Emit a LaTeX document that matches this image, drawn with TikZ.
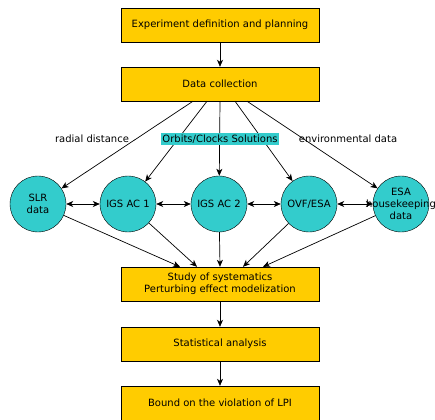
\documentclass[tikz,border=0pt]{standalone}
\usepackage{fontspec}
\setmainfont{DejaVu Sans}
\usetikzlibrary{arrows.meta}
\definecolor{boxyellow}{HTML}{FFCC00}
\definecolor{cyanfill}{HTML}{33CCCC}
\tikzset{
  stepbox/.style={draw, fill=boxyellow, minimum width=198pt, minimum height=34pt, inner sep=0pt, align=center},
  datanode/.style={draw, circle, fill=cyanfill, minimum size=56pt, inner sep=0pt, align=center},
  flow/.style={-{Stealth[length=7pt,width=6pt,inset=2pt]}, line width=0.7pt},
  both/.style={{Stealth[length=7pt,width=6pt,inset=2pt]}-{Stealth[length=7pt,width=6pt,inset=2pt]}, line width=0.7pt}
}
\begin{document}
\begin{tikzpicture}[x=1pt, y=-1pt, font=\fontsize{10}{12}\selectfont]
\useasboundingbox (0,0) rectangle (435,419);
% main chain
\node[stepbox] (plan) at (220,25) {Experiment definition and planning};
\node[stepbox] (coll) at (220,84) {Data collection};
\node[stepbox] (syst) at (220,284) {Study of systematics\\Perturbing effect modelization};
\node[stepbox] (stat) at (220,344) {Statistical analysis};
\node[stepbox] (lpi) at (220,403) {Bound on the violation of LPI};
% data sources
\node[datanode] (slr) at (38,204) {SLR\\data};
\node[datanode] (ac1) at (128,204) {IGS AC 1};
\node[datanode] (ac2) at (219,204) {IGS AC 2};
\node[datanode] (ovf) at (309,204) {OVF/ESA};
\node[datanode] (esa) at (401,204) {ESA\\\makebox[0pt]{housekeeping}\\data};
\draw[flow] (plan) -- (coll);
\draw[flow] ([xshift=-27pt]coll.south) -- (slr);
\draw[flow] ([xshift=-13pt]coll.south) -- (ac1);
\draw[flow] (coll.south) -- (ac2);
\draw[flow] ([xshift=15pt]coll.south) -- (ovf);
\draw[flow] ([xshift=27pt]coll.south) -- (esa);
% labels
\node (rad) at (92,139) {radial distance};
\node[fill=cyanfill, inner sep=1.5pt] (orb) at (220,139) {Orbits/Clocks Solutions};
\node (env) at (348,139) {environmental data};
\draw[both] (slr) -- (ac1);
\draw[both] (ac1) -- (ac2);
\draw[both] (ac2) -- (ovf);
\draw[both] (ovf) -- (esa);
\draw[flow] (slr) -- ([xshift=-40pt]syst.north);
\draw[flow] (ac1) -- ([xshift=-23pt]syst.north);
\draw[flow] (ac2) -- (syst.north);
\draw[flow] (ovf) -- ([xshift=23pt]syst.north);
\draw[flow] (esa) -- ([xshift=43pt]syst.north);
\draw[flow] (syst) -- (stat);
\draw[flow] (stat) -- (lpi);
\end{tikzpicture}
\end{document}
